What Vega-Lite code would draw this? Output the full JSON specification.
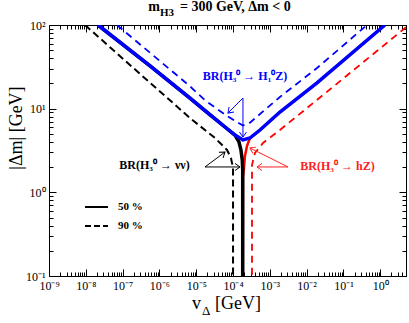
{
  "$schema": "https://vega.github.io/schema/vega-lite/v6.json",
  "width": 357,
  "height": 251,
  "autosize": {"type": "none"},
  "padding": {"left": 49, "top": 25, "right": 3, "bottom": 47},
  "background": "white",
  "config": {
    "view": {"stroke": "black", "strokeWidth": 1},
    "axis": {"grid": false, "domain": false, "tickColor": "black", "tickWidth": 1, "labelFont": "Liberation Serif", "labelFontSize": 12, "labelColor": "black", "labelFlush": false, "labelOverlap": false, "labelBound": false},
    "text": {"font": "Liberation Serif", "color": "black"}
  },
  "resolve": {"axis": {"x": "independent", "y": "independent"}},
  "datasets": {
    "curves": [
      {"s": "blue_solid", "i": 0, "x": 2.14e-8, "y": 100},
      {"s": "blue_solid", "i": 1, "x": 5.55e-7, "y": 32.4},
      {"s": "blue_solid", "i": 2, "x": 6.76e-6, "y": 13.4},
      {"s": "blue_solid", "i": 3, "x": 1.73e-5, "y": 9.5},
      {"s": "blue_solid", "i": 4, "x": 6.04e-5, "y": 6.04},
      {"s": "blue_solid", "i": 5, "x": 1.13e-4, "y": 4.84},
      {"s": "blue_solid", "i": 6, "x": 1.86e-4, "y": 4.23},
      {"s": "blue_solid", "i": 7, "x": 2.88e-4, "y": 4.46},
      {"s": "blue_solid", "i": 8, "x": 5.4e-4, "y": 5.56},
      {"s": "blue_solid", "i": 9, "x": 1.88e-3, "y": 9.12},
      {"s": "blue_solid", "i": 10, "x": 0.0191, "y": 20.3},
      {"s": "blue_solid", "i": 11, "x": 1.34, "y": 100},
      {"s": "black_solid", "i": 0, "x": 2.14e-8, "y": 100},
      {"s": "black_solid", "i": 1, "x": 5.55e-7, "y": 32.4},
      {"s": "black_solid", "i": 2, "x": 6.76e-6, "y": 13.4},
      {"s": "black_solid", "i": 3, "x": 1.73e-5, "y": 9.5},
      {"s": "black_solid", "i": 4, "x": 6.04e-5, "y": 6.04},
      {"s": "black_solid", "i": 5, "x": 1.13e-4, "y": 4.84},
      {"s": "black_solid", "i": 6, "x": 1.45e-4, "y": 4.0},
      {"s": "black_solid", "i": 7, "x": 1.64e-4, "y": 3.21},
      {"s": "black_solid", "i": 8, "x": 1.78e-4, "y": 2.44},
      {"s": "black_solid", "i": 9, "x": 1.83e-4, "y": 1.85},
      {"s": "black_solid", "i": 10, "x": 1.83e-4, "y": 0.1},
      {"s": "red_solid", "i": 0, "x": 1.34, "y": 100},
      {"s": "red_solid", "i": 1, "x": 0.0191, "y": 20.3},
      {"s": "red_solid", "i": 2, "x": 1.88e-3, "y": 9.12},
      {"s": "red_solid", "i": 3, "x": 5.4e-4, "y": 5.56},
      {"s": "red_solid", "i": 4, "x": 2.88e-4, "y": 4.46},
      {"s": "red_solid", "i": 5, "x": 2.39e-4, "y": 3.58},
      {"s": "red_solid", "i": 6, "x": 2.11e-4, "y": 2.72},
      {"s": "red_solid", "i": 7, "x": 1.98e-4, "y": 1.95},
      {"s": "red_solid", "i": 8, "x": 1.86e-4, "y": 1.5},
      {"s": "red_solid", "i": 9, "x": 1.84e-4, "y": 0.1},
      {"s": "blue_dashed", "i": 0, "x": 7.03e-8, "y": 100},
      {"s": "blue_dashed", "i": 1, "x": 6.76e-6, "y": 18.5},
      {"s": "blue_dashed", "i": 2, "x": 1.73e-5, "y": 12.6},
      {"s": "blue_dashed", "i": 3, "x": 6.04e-5, "y": 8.5},
      {"s": "blue_dashed", "i": 4, "x": 1.36e-4, "y": 6.8},
      {"s": "blue_dashed", "i": 5, "x": 1.86e-4, "y": 6.3},
      {"s": "blue_dashed", "i": 6, "x": 2.88e-4, "y": 6.8},
      {"s": "blue_dashed", "i": 7, "x": 1.88e-3, "y": 13.8},
      {"s": "blue_dashed", "i": 8, "x": 0.0191, "y": 30.6},
      {"s": "blue_dashed", "i": 9, "x": 0.436, "y": 100},
      {"s": "black_dashed", "i": 0, "x": 9.51e-9, "y": 100},
      {"s": "black_dashed", "i": 1, "x": 1.58e-7, "y": 33.3},
      {"s": "black_dashed", "i": 2, "x": 6.76e-6, "y": 7.73},
      {"s": "black_dashed", "i": 3, "x": 3.24e-5, "y": 4.46},
      {"s": "black_dashed", "i": 4, "x": 6.86e-5, "y": 3.21},
      {"s": "black_dashed", "i": 5, "x": 8.79e-5, "y": 2.57},
      {"s": "black_dashed", "i": 6, "x": 1.0e-4, "y": 1.95},
      {"s": "black_dashed", "i": 7, "x": 1.0e-4, "y": 0.1},
      {"s": "red_dashed", "i": 0, "x": 5, "y": 94},
      {"s": "red_dashed", "i": 1, "x": 0.0519, "y": 18.2},
      {"s": "red_dashed", "i": 2, "x": 1.88e-3, "y": 5.56},
      {"s": "red_dashed", "i": 3, "x": 6.52e-4, "y": 3.89},
      {"s": "red_dashed", "i": 4, "x": 3.94e-4, "y": 2.95},
      {"s": "red_dashed", "i": 5, "x": 3.27e-4, "y": 2.12},
      {"s": "red_dashed", "i": 6, "x": 3.27e-4, "y": 0.1}
    ],
    "arrows": [
      {"a": "A1", "br": "H1Z", "x1": 1.86e-4, "y1": 13.4, "x2": 7.29e-5, "y2": 8.87},
      {"a": "A2", "br": "H1Z", "x1": 1.86e-4, "y1": 13.4, "x2": 1.86e-4, "y2": 4.58},
      {"a": "A3", "br": "nunu", "x1": 1.73e-5, "y1": 2.01, "x2": 6.04e-5, "y2": 3.03},
      {"a": "A4", "br": "nunu", "x1": 1.73e-5, "y1": 2.01, "x2": 1.55e-4, "y2": 2.01},
      {"a": "A5", "br": "hZ", "x1": 3.11e-3, "y1": 2.01, "x2": 2.88e-4, "y2": 3.39},
      {"a": "A6", "br": "hZ", "x1": 3.11e-3, "y1": 2.01, "x2": 4.48e-4, "y2": 2.01}
    ],
    "labels": [
      {"br": "H1Z", "t": "BR(H₃⁰ → H₁⁰Z)", "x": 2.11e-4, "y": 24.5},
      {"br": "nunu", "t": "BR(H₃⁰ → νν)", "x": 7.35e-7, "y": 2.12},
      {"br": "hZ", "t": "BR(H₃⁰ → hZ)", "x": 0.0689, "y": 2.06}
    ],
    "legend": [
      {"k": "50 %", "style": "solid", "x1": 9.51e-9, "x2": 4.01e-8, "tx": 7.48e-8, "y": 0.668},
      {"k": "90 %", "style": "dashed", "x1": 9.51e-9, "x2": 4.01e-8, "tx": 7.48e-8, "y": 0.396}
    ]
  },
  "data": {"name": "curves"},
  "layer": [
    {
      "transform": [{"filter": "datum.s === 'red_solid'"}],
      "mark": {"type": "line", "color": "#ff0000", "strokeWidth": 2.5, "clip": true},
      "encoding": {
        "x": {"field": "x", "type": "quantitative", "scale": {"type": "log", "domain": [1e-9, 5], "nice": false},
          "axis": {"orient": "bottom", "title": null, "values": [1e-9, 1e-8, 1e-7, 1e-6, 1e-5, 1e-4, 1e-3, 1e-2, 1e-1, 1], "tickSize": -7, "labelPadding": 11,
            "labelExpr": "['10⁻⁹','10⁻⁸','10⁻⁷','10⁻⁶','10⁻⁵','10⁻⁴','10⁻³','10⁻²','10⁻¹','10⁰'][round(log(datum.value)/LN10)+9]"}},
        "y": {"field": "y", "type": "quantitative", "scale": {"type": "log", "domain": [0.1, 100], "nice": false},
          "axis": {"orient": "left", "title": null, "values": [0.1, 1, 10, 100], "tickSize": -7, "labelPadding": 11,
            "labelExpr": "['10⁻¹','10⁰','10¹','10²'][round(log(datum.value)/LN10)+1]"}},
        "order": {"field": "i"}
      }
    },
    {
      "transform": [{"filter": "datum.s === 'black_solid'"}],
      "mark": {"type": "line", "color": "#000000", "strokeWidth": 3.5, "clip": true},
      "encoding": {
        "x": {"field": "x", "type": "quantitative", "scale": {"type": "log", "domain": [1e-9, 5], "nice": false},
          "axis": {"orient": "bottom", "title": null, "labels": false, "tickSize": -4,
            "values": [2e-9,3e-9,4e-9,5e-9,6e-9,7e-9,8e-9,9e-9,2e-8,3e-8,4e-8,5e-8,6e-8,7e-8,8e-8,9e-8,2e-7,3e-7,4e-7,5e-7,6e-7,7e-7,8e-7,9e-7,2e-6,3e-6,4e-6,5e-6,6e-6,7e-6,8e-6,9e-6,2e-5,3e-5,4e-5,5e-5,6e-5,7e-5,8e-5,9e-5,2e-4,3e-4,4e-4,5e-4,6e-4,7e-4,8e-4,9e-4,0.002,0.003,0.004,0.005,0.006,0.007,0.008,0.009,0.02,0.03,0.04,0.05,0.06,0.07,0.08,0.09,0.2,0.3,0.4,0.5,0.6,0.7,0.8,0.9,2,3,4,5]}},
        "y": {"field": "y", "type": "quantitative", "scale": {"type": "log", "domain": [0.1, 100], "nice": false},
          "axis": {"orient": "left", "title": null, "labels": false, "tickSize": -4,
            "values": [0.2,0.3,0.4,0.5,0.6,0.7,0.8,0.9,2,3,4,5,6,7,8,9,20,30,40,50,60,70,80,90]}},
        "order": {"field": "i"}
      }
    },
    {
      "transform": [{"filter": "datum.s === 'blue_solid'"}],
      "mark": {"type": "line", "color": "#0000ff", "strokeWidth": 3.5, "clip": true},
      "encoding": {
        "x": {"field": "x", "type": "quantitative", "scale": {"type": "log", "domain": [1e-9, 5], "nice": false},
          "axis": {"orient": "top", "title": null, "labels": false, "tickSize": -7, "values": [1e-9, 1e-8, 1e-7, 1e-6, 1e-5, 1e-4, 1e-3, 1e-2, 1e-1, 1]}},
        "y": {"field": "y", "type": "quantitative", "scale": {"type": "log", "domain": [0.1, 100], "nice": false},
          "axis": {"orient": "right", "title": null, "labels": false, "tickSize": -7, "values": [0.1, 1, 10, 100]}},
        "order": {"field": "i"}
      }
    },
    {
      "transform": [{"filter": "datum.s === 'black_dashed'"}],
      "mark": {"type": "line", "color": "#000000", "strokeWidth": 2, "strokeDash": [7, 4], "clip": true},
      "encoding": {
        "x": {"field": "x", "type": "quantitative", "scale": {"type": "log", "domain": [1e-9, 5], "nice": false},
          "axis": {"orient": "top", "title": null, "labels": false, "tickSize": -4,
            "values": [2e-9,3e-9,4e-9,5e-9,6e-9,7e-9,8e-9,9e-9,2e-8,3e-8,4e-8,5e-8,6e-8,7e-8,8e-8,9e-8,2e-7,3e-7,4e-7,5e-7,6e-7,7e-7,8e-7,9e-7,2e-6,3e-6,4e-6,5e-6,6e-6,7e-6,8e-6,9e-6,2e-5,3e-5,4e-5,5e-5,6e-5,7e-5,8e-5,9e-5,2e-4,3e-4,4e-4,5e-4,6e-4,7e-4,8e-4,9e-4,0.002,0.003,0.004,0.005,0.006,0.007,0.008,0.009,0.02,0.03,0.04,0.05,0.06,0.07,0.08,0.09,0.2,0.3,0.4,0.5,0.6,0.7,0.8,0.9,2,3,4,5]}},
        "y": {"field": "y", "type": "quantitative", "scale": {"type": "log", "domain": [0.1, 100], "nice": false},
          "axis": {"orient": "right", "title": null, "labels": false, "tickSize": -4,
            "values": [0.2,0.3,0.4,0.5,0.6,0.7,0.8,0.9,2,3,4,5,6,7,8,9,20,30,40,50,60,70,80,90]}},
        "order": {"field": "i"}
      }
    },
    {
      "transform": [{"filter": "datum.s === 'blue_dashed'"}],
      "mark": {"type": "line", "color": "#0000ff", "strokeWidth": 1.8, "strokeDash": [7, 5], "clip": true},
      "encoding": {
        "x": {"field": "x", "type": "quantitative", "scale": {"type": "log", "domain": [1e-9, 5], "nice": false}, "axis": null},
        "y": {"field": "y", "type": "quantitative", "scale": {"type": "log", "domain": [0.1, 100], "nice": false}, "axis": null},
        "order": {"field": "i"}
      }
    },
    {
      "transform": [{"filter": "datum.s === 'red_dashed'"}],
      "mark": {"type": "line", "color": "#ff0000", "strokeWidth": 1.8, "strokeDash": [7, 5], "clip": true},
      "encoding": {
        "x": {"field": "x", "type": "quantitative", "scale": {"type": "log", "domain": [1e-9, 5], "nice": false}, "axis": null},
        "y": {"field": "y", "type": "quantitative", "scale": {"type": "log", "domain": [0.1, 100], "nice": false}, "axis": null},
        "order": {"field": "i"}
      }
    },
    {
      "data": {"name": "arrows"},
      "mark": {"type": "rule", "strokeWidth": 1},
      "encoding": {
        "x": {"field": "x1", "type": "quantitative", "scale": {"type": "log", "domain": [1e-9, 5], "nice": false}, "axis": null},
        "y": {"field": "y1", "type": "quantitative", "scale": {"type": "log", "domain": [0.1, 100], "nice": false}, "axis": null},
        "x2": {"field": "x2"},
        "y2": {"field": "y2"},
        "color": {"field": "br", "type": "nominal", "scale": {"domain": ["H1Z", "nunu", "hZ"], "range": ["#0000ff", "#000000", "#ff2020"]}, "legend": null}
      }
    },
    {
      "data": {"name": "arrows"},
      "transform": [{"filter": "datum.a === 'A1'"}],
      "mark": {"type": "point", "shape": "M-1,-0.7L0,0L-1,0.7", "filled": false, "size": 100, "strokeWidth": 1, "angle": 135, "opacity": 1},
      "encoding": {
        "x": {"field": "x2", "type": "quantitative", "scale": {"type": "log", "domain": [1e-9, 5], "nice": false}, "axis": null},
        "y": {"field": "y2", "type": "quantitative", "scale": {"type": "log", "domain": [0.1, 100], "nice": false}, "axis": null},
        "color": {"field": "br", "type": "nominal", "scale": {"domain": ["H1Z", "nunu", "hZ"], "range": ["#0000ff", "#000000", "#ff2020"]}, "legend": null}
      }
    },
    {
      "data": {"name": "arrows"},
      "transform": [{"filter": "datum.a === 'A2'"}],
      "mark": {"type": "point", "shape": "M-1,-0.7L0,0L-1,0.7", "filled": false, "size": 100, "strokeWidth": 1, "angle": 90, "opacity": 1},
      "encoding": {
        "x": {"field": "x2", "type": "quantitative", "scale": {"type": "log", "domain": [1e-9, 5], "nice": false}, "axis": null},
        "y": {"field": "y2", "type": "quantitative", "scale": {"type": "log", "domain": [0.1, 100], "nice": false}, "axis": null},
        "color": {"field": "br", "type": "nominal", "scale": {"domain": ["H1Z", "nunu", "hZ"], "range": ["#0000ff", "#000000", "#ff2020"]}, "legend": null}
      }
    },
    {
      "data": {"name": "arrows"},
      "transform": [{"filter": "datum.a === 'A3'"}],
      "mark": {"type": "point", "shape": "M-1,-0.7L0,0L-1,0.7", "filled": false, "size": 100, "strokeWidth": 1, "angle": 323, "opacity": 1},
      "encoding": {
        "x": {"field": "x2", "type": "quantitative", "scale": {"type": "log", "domain": [1e-9, 5], "nice": false}, "axis": null},
        "y": {"field": "y2", "type": "quantitative", "scale": {"type": "log", "domain": [0.1, 100], "nice": false}, "axis": null},
        "color": {"field": "br", "type": "nominal", "scale": {"domain": ["H1Z", "nunu", "hZ"], "range": ["#0000ff", "#000000", "#ff2020"]}, "legend": null}
      }
    },
    {
      "data": {"name": "arrows"},
      "transform": [{"filter": "datum.a === 'A4'"}],
      "mark": {"type": "point", "shape": "M-1,-0.7L0,0L-1,0.7", "filled": false, "size": 100, "strokeWidth": 1, "angle": 0, "opacity": 1},
      "encoding": {
        "x": {"field": "x2", "type": "quantitative", "scale": {"type": "log", "domain": [1e-9, 5], "nice": false}, "axis": null},
        "y": {"field": "y2", "type": "quantitative", "scale": {"type": "log", "domain": [0.1, 100], "nice": false}, "axis": null},
        "color": {"field": "br", "type": "nominal", "scale": {"domain": ["H1Z", "nunu", "hZ"], "range": ["#0000ff", "#000000", "#ff2020"]}, "legend": null}
      }
    },
    {
      "data": {"name": "arrows"},
      "transform": [{"filter": "datum.a === 'A5'"}],
      "mark": {"type": "point", "shape": "M-1,-0.7L0,0L-1,0.7", "filled": false, "size": 100, "strokeWidth": 1, "angle": 207, "opacity": 1},
      "encoding": {
        "x": {"field": "x2", "type": "quantitative", "scale": {"type": "log", "domain": [1e-9, 5], "nice": false}, "axis": null},
        "y": {"field": "y2", "type": "quantitative", "scale": {"type": "log", "domain": [0.1, 100], "nice": false}, "axis": null},
        "color": {"field": "br", "type": "nominal", "scale": {"domain": ["H1Z", "nunu", "hZ"], "range": ["#0000ff", "#000000", "#ff2020"]}, "legend": null}
      }
    },
    {
      "data": {"name": "arrows"},
      "transform": [{"filter": "datum.a === 'A6'"}],
      "mark": {"type": "point", "shape": "M-1,-0.7L0,0L-1,0.7", "filled": false, "size": 100, "strokeWidth": 1, "angle": 180, "opacity": 1},
      "encoding": {
        "x": {"field": "x2", "type": "quantitative", "scale": {"type": "log", "domain": [1e-9, 5], "nice": false}, "axis": null},
        "y": {"field": "y2", "type": "quantitative", "scale": {"type": "log", "domain": [0.1, 100], "nice": false}, "axis": null},
        "color": {"field": "br", "type": "nominal", "scale": {"domain": ["H1Z", "nunu", "hZ"], "range": ["#0000ff", "#000000", "#ff2020"]}, "legend": null}
      }
    },
    {
      "data": {"name": "labels"},
      "mark": {"type": "text", "align": "center", "baseline": "middle", "fontSize": 12, "fontWeight": "bold", "font": "Liberation Serif"},
      "encoding": {
        "x": {"field": "x", "type": "quantitative", "scale": {"type": "log", "domain": [1e-9, 5], "nice": false}, "axis": null},
        "y": {"field": "y", "type": "quantitative", "scale": {"type": "log", "domain": [0.1, 100], "nice": false}, "axis": null},
        "text": {"field": "t"},
        "color": {"field": "br", "type": "nominal", "scale": {"domain": ["H1Z", "nunu", "hZ"], "range": ["#0000ff", "#000000", "#ff2020"]}, "legend": null}
      }
    },
    {
      "data": {"name": "legend"},
      "transform": [{"filter": "datum.style === 'solid'"}],
      "mark": {"type": "rule", "color": "black", "strokeWidth": 2},
      "encoding": {
        "x": {"field": "x1", "type": "quantitative", "scale": {"type": "log", "domain": [1e-9, 5], "nice": false}, "axis": null},
        "x2": {"field": "x2"},
        "y": {"field": "y", "type": "quantitative", "scale": {"type": "log", "domain": [0.1, 100], "nice": false}, "axis": null}
      }
    },
    {
      "data": {"name": "legend"},
      "transform": [{"filter": "datum.style === 'dashed'"}],
      "mark": {"type": "rule", "color": "black", "strokeWidth": 2, "strokeDash": [6, 3]},
      "encoding": {
        "x": {"field": "x1", "type": "quantitative", "scale": {"type": "log", "domain": [1e-9, 5], "nice": false}, "axis": null},
        "x2": {"field": "x2"},
        "y": {"field": "y", "type": "quantitative", "scale": {"type": "log", "domain": [0.1, 100], "nice": false}, "axis": null}
      }
    },
    {
      "data": {"name": "legend"},
      "mark": {"type": "text", "align": "left", "baseline": "middle", "fontSize": 11, "fontWeight": "bold", "font": "Liberation Serif", "color": "black"},
      "encoding": {
        "x": {"field": "tx", "type": "quantitative", "scale": {"type": "log", "domain": [1e-9, 5], "nice": false}, "axis": null},
        "y": {"field": "y", "type": "quantitative", "scale": {"type": "log", "domain": [0.1, 100], "nice": false}, "axis": null},
        "text": {"field": "k"}
      }
    },
    {
      "data": {"values": [{"t": "m", "x": 1.035e-6, "y": 146.9}]},
      "mark": {"type": "text", "align": "right", "baseline": "alphabetic", "fontSize": 14, "fontWeight": "bold", "font": "Liberation Serif", "color": "black"},
      "encoding": {
        "x": {"field": "x", "type": "quantitative", "scale": {"type": "log", "domain": [1e-9, 5], "nice": false}, "axis": null},
        "y": {"field": "y", "type": "quantitative", "scale": {"type": "log", "domain": [0.1, 100], "nice": false}, "axis": null},
        "text": {"field": "t"}
      }
    },
    {
      "data": {"values": [{"t": "H3", "x": 1.035e-6, "y": 146.9}]},
      "mark": {"type": "text", "align": "left", "baseline": "alphabetic", "dy": 5, "fontSize": 11, "fontWeight": "bold", "font": "Liberation Serif", "color": "black"},
      "encoding": {
        "x": {"field": "x", "type": "quantitative", "scale": {"type": "log", "domain": [1e-9, 5], "nice": false}, "axis": null},
        "y": {"field": "y", "type": "quantitative", "scale": {"type": "log", "domain": [0.1, 100], "nice": false}, "axis": null},
        "text": {"field": "t"}
      }
    },
    {
      "data": {"values": [{"t": "= 300 GeV, Δm < 0", "x": 3.6e-6, "y": 146.9}]},
      "mark": {"type": "text", "align": "left", "baseline": "alphabetic", "fontSize": 14, "fontWeight": "bold", "font": "Liberation Serif", "color": "black"},
      "encoding": {
        "x": {"field": "x", "type": "quantitative", "scale": {"type": "log", "domain": [1e-9, 5], "nice": false}, "axis": null},
        "y": {"field": "y", "type": "quantitative", "scale": {"type": "log", "domain": [0.1, 100], "nice": false}, "axis": null},
        "text": {"field": "t"}
      }
    },
    {
      "data": {"values": [{"t": "v", "x": 7.67e-6, "y": 0.0404}, {"t": "[GeV]", "x": 3.24e-5, "y": 0.0404}]},
      "mark": {"type": "text", "align": "left", "baseline": "alphabetic", "fontSize": 18, "font": "Liberation Serif", "color": "black"},
      "encoding": {
        "x": {"field": "x", "type": "quantitative", "scale": {"type": "log", "domain": [1e-9, 5], "nice": false}, "axis": null},
        "y": {"field": "y", "type": "quantitative", "scale": {"type": "log", "domain": [0.1, 100], "nice": false}, "axis": null},
        "text": {"field": "t"}
      }
    },
    {
      "data": {"values": [{"t": "Δ", "x": 1.44e-5, "y": 0.0404}]},
      "mark": {"type": "text", "align": "left", "baseline": "alphabetic", "dy": 6, "fontSize": 13, "font": "Liberation Serif", "color": "black"},
      "encoding": {
        "x": {"field": "x", "type": "quantitative", "scale": {"type": "log", "domain": [1e-9, 5], "nice": false}, "axis": null},
        "y": {"field": "y", "type": "quantitative", "scale": {"type": "log", "domain": [0.1, 100], "nice": false}, "axis": null},
        "text": {"field": "t"}
      }
    },
    {
      "data": {"values": [{"t": "|Δm| [GeV]", "x": 1.35e-10, "y": 5.87}]},
      "mark": {"type": "text", "align": "center", "baseline": "middle", "angle": 270, "fontSize": 18, "font": "Liberation Serif", "color": "black"},
      "encoding": {
        "x": {"field": "x", "type": "quantitative", "scale": {"type": "log", "domain": [1e-9, 5], "nice": false}, "axis": null},
        "y": {"field": "y", "type": "quantitative", "scale": {"type": "log", "domain": [0.1, 100], "nice": false}, "axis": null},
        "text": {"field": "t"}
      }
    }
  ]
}
